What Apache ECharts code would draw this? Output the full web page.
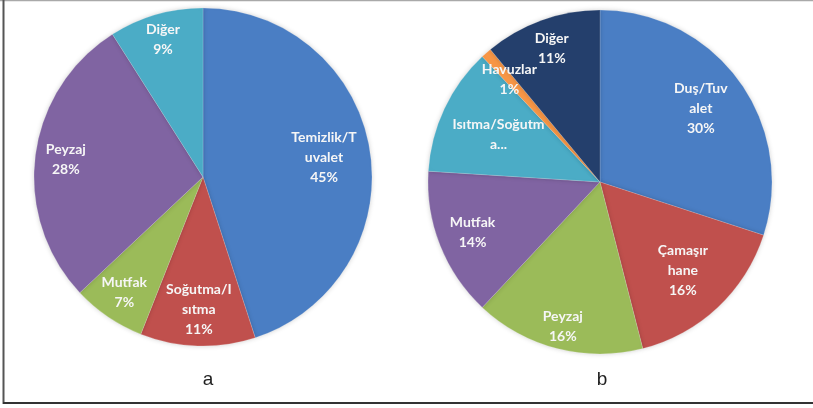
<!DOCTYPE html>
<html>
<head>
<meta charset="utf-8">
<script src="https://cdn.jsdelivr.net/npm/echarts@6/dist/echarts.min.js"></script>
<style>
  html, body { margin: 0; padding: 0; background: #ffffff; }
  #chart { width: 813px; height: 408px; }
</style>
</head>
<body>
<div id="chart"></div>
<script>
// Pie (a): categories and shares (%)
const categoriesA = ['Temizlik/T\nuvalet', 'Soğutma/I\nsıtma', 'Mutfak', 'Peyzaj', 'Diğer'];
const valuesA = [45, 11, 7, 28, 9];
const colorsA = ['#4a7ec4', '#c0504d', '#9bbb59', '#8064a2', '#4bacc6'];

// Pie (b): categories and shares (%)
const categoriesB = ['Duş/Tuv\nalet', 'Çamaşır\nhane', 'Peyzaj', 'Mutfak', 'Isıtma/Soğutm\na...', 'Havuzlar', 'Diğer'];
const valuesB = [30, 16, 16, 14, 12, 1, 11];
const colorsB = ['#4a7ec4', '#c0504d', '#9bbb59', '#8064a2', '#4bacc6', '#f79646', '#243f6c'];
// The heating/cooling label is cut short and carries no percentage
const nameOnlyB = [false, false, false, false, true, false, false];

// Panel captions
const panelTitles = ['a', 'b'];

// Pie geometry and how far out (fraction of radius) each label sits
const pieA = { cx: 203, cy: 177, r: 169 };
const pieB = { cx: 600, cy: 182, r: 172 };
const labelFracA = [0.70, 0.76, 0.80, 0.79, 0.82];
const labelFracB = [0.70, 0.68, 0.84, 0.77, 0.63, 0.77, 0.80];

function makeData(cats, vals, cols, nameOnly) {
  return cats.map((name, i) => {
    const d = { name: name, value: vals[i], itemStyle: { color: cols[i] } };
    if (nameOnly && nameOnly[i]) d.label = { formatter: '{b}' };
    return d;
  });
}

// Push each inside label (placed at half radius by ECharts) out to its radial fraction
function radialLayout(pie, fracs) {
  return function (p) {
    const lr = p.labelRect;
    const x = lr.x + lr.width / 2;
    const y = lr.y + lr.height / 2;
    const k = fracs[p.dataIndex] / 0.5;
    return { x: pie.cx + (x - pie.cx) * k, y: pie.cy + (y - pie.cy) * k };
  };
}

const labelStyle = {
  show: true,
  position: 'inside',
  formatter: '{b}\n{c}%',
  color: '#f6f6f6',
  fontFamily: 'Lato, "Open Sans", sans-serif',
  fontWeight: 'bold',
  fontSize: 14,
  lineHeight: 20,
  align: 'center',
  verticalAlign: 'middle'
};

const itemStyle = {
  borderColor: 'rgba(255,255,255,0.35)',
  borderWidth: 0.5,
  shadowBlur: 5,
  shadowColor: 'rgba(0,0,0,0.18)'
};

const captionStyle = {
  fontFamily: 'Arial, "Liberation Sans", sans-serif',
  fontSize: 19,
  fontWeight: 'normal',
  color: '#1f1f1f'
};

const chart = echarts.init(document.getElementById('chart'), null, { renderer: 'canvas' });

chart.setOption({
  backgroundColor: '#ffffff',
  animation: false,
  title: [
    { text: panelTitles[0], left: pieA.cx, top: 365, textAlign: 'center', textStyle: captionStyle },
    { text: panelTitles[1], left: pieB.cx - 3, top: 365, textAlign: 'center', textStyle: captionStyle }
  ],
  graphic: [
    { type: 'line', shape: { x1: 0, y1: 0.5, x2: 813, y2: 0.5 }, style: { stroke: '#a9a9a9', lineWidth: 1.5 } },
    { type: 'line', shape: { x1: 3.5, y1: 0, x2: 3.5, y2: 404 }, style: { stroke: '#555555', lineWidth: 2 } },
    { type: 'line', shape: { x1: 3, y1: 403, x2: 813, y2: 403 }, style: { stroke: '#333333', lineWidth: 2 } }
  ],
  series: [
    {
      type: 'pie',
      center: [pieA.cx, pieA.cy],
      radius: [0, pieA.r],
      startAngle: 90,
      clockwise: true,
      silent: true,
      data: makeData(categoriesA, valuesA, colorsA),
      itemStyle: itemStyle,
      label: labelStyle,
      labelLine: { show: false },
      labelLayout: radialLayout(pieA, labelFracA)
    },
    {
      type: 'pie',
      center: [pieB.cx, pieB.cy],
      radius: [0, pieB.r],
      startAngle: 90,
      clockwise: true,
      silent: true,
      data: makeData(categoriesB, valuesB, colorsB, nameOnlyB),
      itemStyle: itemStyle,
      label: labelStyle,
      labelLine: { show: false },
      labelLayout: radialLayout(pieB, labelFracB)
    }
  ]
});
</script>
</body>
</html>
